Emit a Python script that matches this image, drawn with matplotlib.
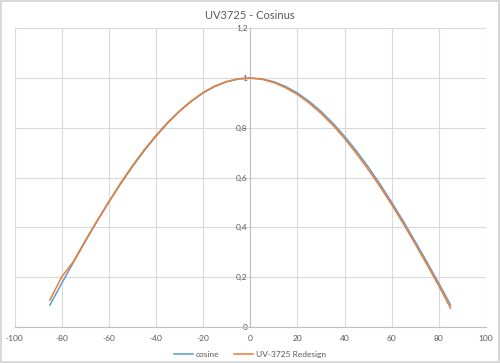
import matplotlib
matplotlib.use("Agg")
import matplotlib.pyplot as plt
from matplotlib.ticker import FuncFormatter

plt.rcParams['font.family'] = ['Lato', 'DejaVu Sans']

# angle in degrees
angles = [-85, -80, -75, -70, -65, -60, -55, -50, -45, -40, -35, -30, -25, -20, -15, -10, -5,
          0, 5, 10, 15, 20, 25, 30, 35, 40, 45, 50, 55, 60, 65, 70, 75, 80, 85]
cosine = [0.087, 0.174, 0.259, 0.342, 0.423, 0.500, 0.574, 0.643, 0.707, 0.766, 0.819, 0.866,
          0.906, 0.940, 0.966, 0.985, 0.996, 1.000, 0.996, 0.985, 0.966, 0.940, 0.906, 0.866,
          0.819, 0.766, 0.707, 0.643, 0.574, 0.500, 0.423, 0.342, 0.259, 0.174, 0.087]
redesign = [0.107, 0.200, 0.262, 0.346, 0.426, 0.503, 0.578, 0.647, 0.711, 0.769, 0.822, 0.868,
            0.908, 0.942, 0.968, 0.986, 0.997, 1.000, 0.995, 0.982, 0.961, 0.934, 0.899, 0.858,
            0.811, 0.757, 0.697, 0.633, 0.564, 0.491, 0.413, 0.332, 0.249, 0.164, 0.074]

xticks = list(range(-100, 101, 20))
yticks = [0, 0.2, 0.4, 0.6, 0.8, 1.0, 1.2]

fig = plt.figure(figsize=(5, 3.63), dpi=100)
fig.patch.set_edgecolor('#d9d9d9')
fig.patch.set_linewidth(1.5)
ax = fig.add_axes([0.029, 0.100, 0.943, 0.822])

ax.plot(angles, cosine, color='#5B9BD5', lw=1.1, label='cosine', zorder=3)
ax.plot(angles, redesign, color='#ED7D31', lw=1.1, label='UV-3725 Redesign', zorder=3)

ax.set_xlim(-100, 100)
ax.set_ylim(0, 1.2)
ax.set_xticks(xticks)
ax.set_yticks(yticks)
ax.grid(True, color='#d9d9d9', lw=0.8)
ax.set_axisbelow(True)

fmt = FuncFormatter(lambda v, p: ('%g' % round(v, 1)).replace('.', ','))
ax.yaxis.set_major_formatter(fmt)
ax.xaxis.set_major_formatter(FuncFormatter(lambda v, p: '%d' % v))

for s in ['top', 'right']:
    ax.spines[s].set_visible(False)
ax.spines['left'].set_position(('data', 0))
ax.spines['left'].set_color('#bfbfbf')
ax.spines['bottom'].set_color('#bfbfbf')
ax.spines['left'].set_zorder(2)
ax.tick_params(axis='both', length=0, labelsize=6, labelcolor='#595959')
ax.tick_params(axis='x', pad=6)
ax.tick_params(axis='y', pad=2)

fig.suptitle('UV3725 - Cosinus', y=0.972, fontsize=8, color='#595959')
ax.legend(loc='center', bbox_to_anchor=(0.5, -0.093), ncol=2, frameon=False,
          fontsize=6, labelcolor='#595959', handlelength=2.2, columnspacing=1.8,
          handletextpad=0.4)

fig.savefig('out.png', dpi=100)
